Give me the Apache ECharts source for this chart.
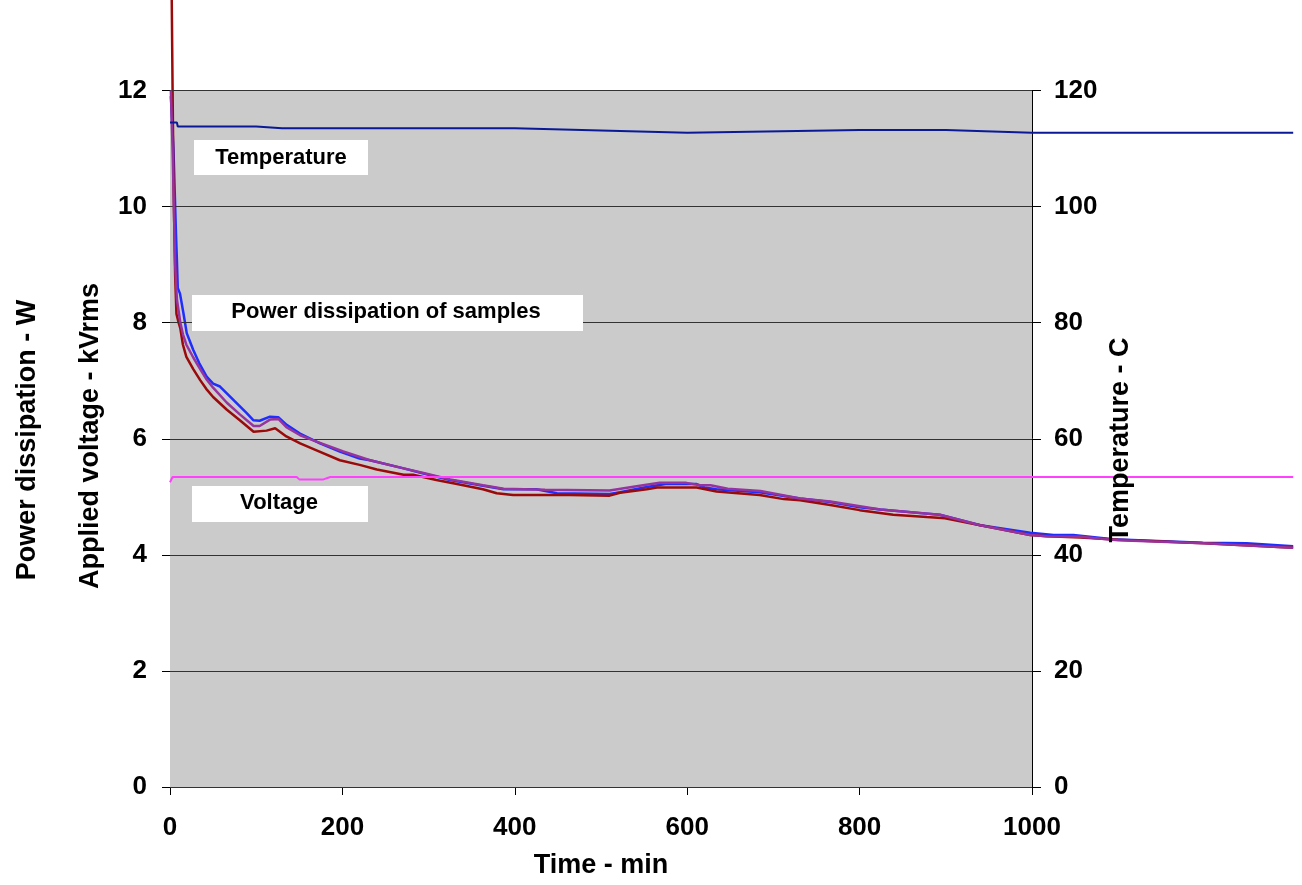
<!DOCTYPE html>
<html>
<head>
<meta charset="utf-8">
<script src="https://cdn.jsdelivr.net/npm/echarts@6/dist/echarts.min.js"></script>
<style>
html,body{margin:0;padding:0;background:#fff;}
#chart{width:1302px;height:885px;}
</style>
</head>
<body>
<div id="chart"></div>
<script>
// ---- Data (time in min, power in W, voltage in kVrms, temperature in C) ----
const xTicks = [0, 200, 400, 600, 800, 1000];
const leftTicks = [0, 2, 4, 6, 8, 10, 12];
const rightTicks = [0, 20, 40, 60, 80, 100, 120];

const powerBlue = [
  [1, 11.9], [4, 11.0], [7, 9.5], [8, 9.08], [9, 8.6], [11.6, 8.5], [15.5, 8.17], [19.4, 7.82],
  [27, 7.53], [34, 7.3], [42.5, 7.07], [50, 6.95], [58, 6.9], [73.5, 6.67], [89, 6.44], [96.6, 6.32], [104, 6.31],
  [116, 6.38], [125.6, 6.37], [135.4, 6.24], [150.8, 6.09], [174, 5.92], [197, 5.78],
  [220, 5.66], [232, 5.63], [271, 5.49], [294, 5.4], [325, 5.29], [363, 5.19], [387, 5.13],
  [425, 5.13], [449, 5.06], [510, 5.05], [522, 5.08], [553, 5.17], [575, 5.22], [611, 5.22],
  [620, 5.16], [634, 5.13], [684, 5.08], [731, 4.97], [766, 4.91], [800, 4.82], [824, 4.78],
  [878, 4.71], [893, 4.69], [940, 4.51], [998, 4.38], [1025, 4.34], [1048, 4.34],
  [1094, 4.27], [1198, 4.21], [1249, 4.2], [1303, 4.15]
];
const powerRed = [
  [2, 13.6], [3, 12.0], [4, 10.5], [5.5, 9.2], [6, 8.8], [7.5, 8.15], [10, 8.0], [12, 7.9],
  [15, 7.62], [19, 7.41], [27, 7.2], [35, 7.01], [42, 6.86], [50, 6.72], [66, 6.5], [81, 6.32], [97, 6.12], [112, 6.14],
  [122, 6.18], [135, 6.04], [151, 5.92], [170, 5.8], [197, 5.63], [220, 5.55], [240, 5.47],
  [271, 5.38], [282, 5.38], [309, 5.29], [333, 5.22], [363, 5.13], [379, 5.06], [398, 5.03],
  [464, 5.03], [510, 5.02], [522, 5.07], [553, 5.13], [565, 5.16], [611, 5.16], [634, 5.09],
  [684, 5.03], [712, 4.96], [731, 4.94], [766, 4.86], [800, 4.77], [839, 4.69], [878, 4.65],
  [899, 4.63], [940, 4.51], [998, 4.34], [1017, 4.32], [1056, 4.3], [1100, 4.26],
  [1200, 4.2], [1303, 4.12]
];
const powerPurple = [
  [1, 12.0], [3, 11.0], [6, 9.0], [8, 8.4], [12, 8.0], [15, 7.8], [19, 7.62], [27, 7.4], [35, 7.2], [42, 7.03], [50, 6.88],
  [66, 6.62], [81, 6.42], [97, 6.22], [104, 6.22], [116, 6.33], [126, 6.34], [135, 6.2],
  [151, 6.06], [170, 5.95], [201, 5.78], [232, 5.63], [271, 5.49], [294, 5.41], [325, 5.3],
  [363, 5.2], [387, 5.14], [435, 5.12], [510, 5.11], [545, 5.19], [568, 5.24], [599, 5.24],
  [615, 5.2], [627, 5.2], [647, 5.14], [685, 5.1], [731, 4.97], [766, 4.92], [824, 4.78],
  [893, 4.69], [940, 4.51], [998, 4.34], [1017, 4.32], [1056, 4.31], [1100, 4.25],
  [1200, 4.2], [1303, 4.12]
];
const voltage = [
  [0, 5.25], [2, 5.25], [3, 5.34], [147, 5.34], [150, 5.3], [178, 5.3], [186, 5.34], [1303, 5.34]
];
const temperature = [
  [0, 114.5], [8, 114.5], [9, 113.8], [100, 113.8], [130, 113.5], [400, 113.5],
  [600, 112.7], [800, 113.2], [900, 113.2], [1000, 112.7], [1303, 112.7]
];

const FONT = '"Liberation Sans", Arial, sans-serif';
const X_MAX_DATA = 1310;           // traces run past the last labelled tick
const PLOT_MAX = xTicks[xTicks.length - 1];
const PX_PER_MIN = 0.862;
const GRID_LEFT = 170;
const GRID_RIGHT = 1302 - GRID_LEFT - PX_PER_MIN * X_MAX_DATA;
const RIGHT_AXIS_OFFSET = -(PX_PER_MIN * (X_MAX_DATA - PLOT_MAX));

const chart = echarts.init(document.getElementById('chart'), null, {renderer: 'canvas'});

function lineSeries(name, data, color, width, yIndex, z) {
  return {
    name: name, type: 'line', data: data, yAxisIndex: yIndex, showSymbol: false, symbol: 'none',
    clip: false, animation: false, lineStyle: {color: color, width: width}, z: z
  };
}

const gridLines = leftTicks.slice(1).map(v => [{coord: [0, v]}, {coord: [PLOT_MAX, v]}]);
const baseLine = [[{coord: [0, 0]}, {coord: [PLOT_MAX, 0]}]];

chart.setOption({
  animation: false,
  backgroundColor: '#ffffff',
  grid: {left: GRID_LEFT, right: GRID_RIGHT, top: 90.5, bottom: 98, show: false},
  xAxis: {
    type: 'value', min: 0, max: X_MAX_DATA, interval: 200,
    axisLine: {show: false},
    axisTick: {show: true, inside: false, length: 8, lineStyle: {color: '#000'}, customValues: xTicks},
    axisLabel: {
      fontFamily: FONT, fontSize: 26, fontWeight: 'bold', color: '#000', margin: 28,
      customValues: xTicks,
      formatter: v => (v <= PLOT_MAX ? String(v) : '')
    },
    splitLine: {show: false}
  },
  yAxis: [{
    type: 'value', position: 'left', min: leftTicks[0], max: leftTicks[leftTicks.length - 1], interval: 2,
    axisLine: {show: true, lineStyle: {color: '#555', width: 1}},
    axisTick: {show: true, inside: false, length: 8, lineStyle: {color: '#000'}},
    axisLabel: {fontFamily: FONT, fontSize: 26, fontWeight: 'bold', color: '#000', margin: 23},
    splitLine: {show: false}
  }, {
    type: 'value', position: 'right', offset: RIGHT_AXIS_OFFSET,
    min: rightTicks[0], max: rightTicks[rightTicks.length - 1], interval: 20,
    axisLine: {show: true, lineStyle: {color: '#000', width: 1}},
    axisTick: {show: true, inside: false, length: 9, lineStyle: {color: '#000'}},
    axisLabel: {fontFamily: FONT, fontSize: 26, fontWeight: 'bold', color: '#000', margin: 22},
    splitLine: {show: false}
  }],
  series: [
    {
      name: 'plot area', type: 'line', data: [[0, 0]], symbol: 'none', showSymbol: false, z: 0, silent: true,
      lineStyle: {width: 0},
      markArea: {silent: true, itemStyle: {color: '#CBCBCB'}, data: [[{coord: [0, 0]}, {coord: [PLOT_MAX, leftTicks[leftTicks.length - 1]]}]]}
    },
    {
      name: 'grid lines', type: 'line', data: [[0, 0]], symbol: 'none', showSymbol: false, z: 1, silent: true,
      lineStyle: {width: 0},
      markLine: {silent: true, symbol: ['none', 'none'], label: {show: false},
        lineStyle: {color: '#333', width: 1, type: 'solid'}, data: gridLines.concat(baseLine)}
    },
    lineSeries('Power sample 1', powerBlue, '#1E2EFF', 2.5, 0, 3),
    lineSeries('Power sample 3', powerRed, '#9A0A0A', 2.5, 0, 4),
    lineSeries('Power sample 2', powerPurple, '#96339E', 2.5, 0, 5),
    lineSeries('Voltage', voltage, '#FF40FF', 2, 0, 6),
    lineSeries('Temperature', temperature, '#0A1A96', 2, 1, 6)
  ],
  graphic: [
    {type: 'rect', shape: {x: 194, y: 140, width: 174, height: 35}, style: {fill: '#fff'}, z: 10},
    {type: 'text', x: 281, y: 157.5, style: {text: 'Temperature', fontFamily: FONT, fontSize: 22, fontWeight: 'bold', fill: '#000', align: 'center', verticalAlign: 'middle'}, z: 11},
    {type: 'rect', shape: {x: 192, y: 295, width: 391, height: 36}, style: {fill: '#fff'}, z: 10},
    {type: 'text', x: 386, y: 312, style: {text: 'Power dissipation of samples', fontFamily: FONT, fontSize: 22, fontWeight: 'bold', fill: '#000', align: 'center', verticalAlign: 'middle'}, z: 11},
    {type: 'rect', shape: {x: 192, y: 486, width: 176, height: 36}, style: {fill: '#fff'}, z: 10},
    {type: 'text', x: 279, y: 503, style: {text: 'Voltage', fontFamily: FONT, fontSize: 22, fontWeight: 'bold', fill: '#000', align: 'center', verticalAlign: 'middle'}, z: 11},
    {type: 'text', x: 601, y: 866, style: {text: 'Time - min', fontFamily: FONT, fontSize: 27, fontWeight: 'bold', fill: '#000', align: 'center', verticalAlign: 'middle'}, z: 11},
    {type: 'text', x: 28, y: 440, rotation: Math.PI / 2, style: {text: 'Power dissipation - W', fontFamily: FONT, fontSize: 27, fontWeight: 'bold', fill: '#000', align: 'center', verticalAlign: 'middle'}, z: 11},
    {type: 'text', x: 91, y: 436, rotation: Math.PI / 2, style: {text: 'Applied voltage - kVrms', fontFamily: FONT, fontSize: 27, fontWeight: 'bold', fill: '#000', align: 'center', verticalAlign: 'middle'}, z: 11},
    {type: 'text', x: 1121, y: 440, rotation: Math.PI / 2, style: {text: 'Temperature - C', fontFamily: FONT, fontSize: 27, fontWeight: 'bold', fill: '#000', align: 'center', verticalAlign: 'middle'}, z: 11}
  ]
});
</script>
</body>
</html>
